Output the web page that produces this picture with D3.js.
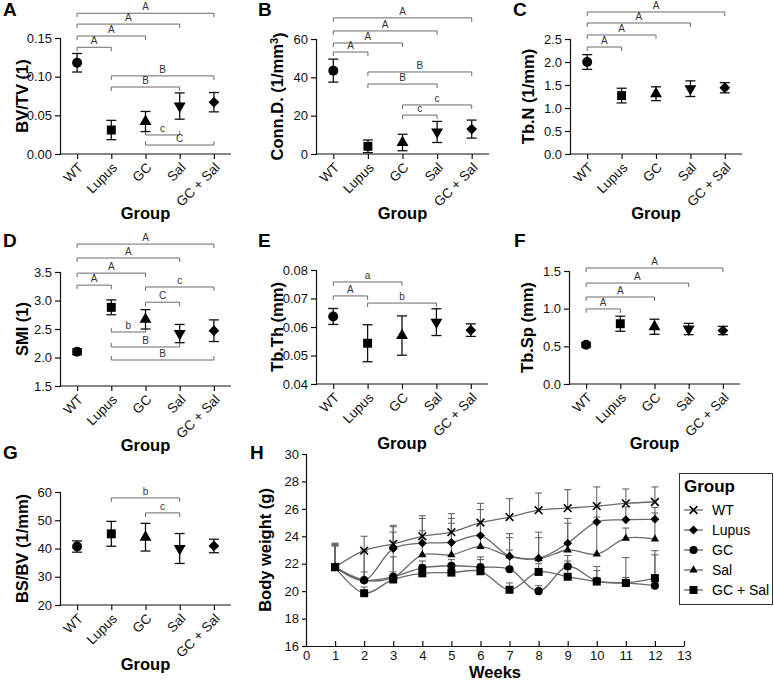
<!DOCTYPE html>
<html>
<head>
<meta charset="utf-8">
<script src="https://cdn.jsdelivr.net/npm/d3@7"></script>
<style>
  body { margin: 0; background: #fff; }
  svg { font-family: Arial, "Liberation Sans", sans-serif; }
</style>
</head>
<body>
<svg id="fig" width="774" height="683"></svg>
<script>

// ---- data: group panels (mean and SD per group) ----
const groups = ['WT', 'Lupus', 'GC', 'Sal', 'GC + Sal'];

const bvtvMean = [0.118, 0.031, 0.042, 0.062, 0.067];
const bvtvSd = [0.012, 0.0125, 0.013, 0.017, 0.0125];
const bvtvTicks = [0, 0.05, 0.10, 0.15];

const connMean = [43.5, 4, 6, 11.5, 13];
const connSd = [6, 3.3, 4.3, 5.5, 4.7];
const connTicks = [0, 20, 40, 60];

const tbnMean = [2.0, 1.27, 1.31, 1.42, 1.44];
const tbnSd = [0.16, 0.16, 0.15, 0.17, 0.11];
const tbnTicks = [0, 0.5, 1.0, 1.5, 2.0, 2.5];

const smiMean = [2.10, 2.88, 2.67, 2.42, 2.47];
const smiSd = [0.05, 0.13, 0.17, 0.16, 0.19];
const smiTicks = [1.5, 2.0, 2.5, 3.0, 3.5];

const tbthMean = [0.0637, 0.0543, 0.057, 0.0617, 0.0589];
const tbthSd = [0.0028, 0.0065, 0.0069, 0.0047, 0.0022];
const tbthTicks = [0.04, 0.05, 0.06, 0.07, 0.08];

const tbspMean = [0.52, 0.80, 0.76, 0.73, 0.71];
const tbspSd = [0.03, 0.10, 0.10, 0.075, 0.055];
const tbspTicks = [0, 0.5, 1.0, 1.5];

const bsbvMean = [40.7, 45.2, 44.0, 40.0, 40.9];
const bsbvSd = [2.0, 4.4, 4.9, 5.3, 2.4];
const bsbvTicks = [20, 30, 40, 50, 60];

// significance brackets: [from group, to group, label, level (data units), legs]
const bvtvBrackets = [
  [0, 4, 'A', 0.182, 'down'], [0, 3, 'A', 0.168, 'down'], [0, 2, 'A', 0.1526, 'down'],
  [0, 1, 'A', 0.138, 'down'], [1, 4, 'B', 0.101, 'down'], [1, 3, 'B', 0.0866, 'down'],
  [2, 3, 'c', 0.0246, 'up'], [2, 4, 'C', 0.0116, 'up']
];
const connBrackets = [
  [0, 4, 'A', 71, 'down'], [0, 3, 'A', 64.2, 'down'], [0, 2, 'A', 57.9, 'down'],
  [0, 1, 'A', 53.2, 'down'], [1, 4, 'B', 42.8, 'down'], [1, 3, 'B', 36.5, 'down'],
  [2, 4, 'c', 25.6, 'down'], [2, 3, 'c', 20.3, 'down']
];
const tbnBrackets = [
  [0, 4, 'A', 3.087, 'down'], [0, 3, 'A', 2.848, 'down'],
  [0, 2, 'A', 2.587, 'down'], [0, 1, 'A', 2.326, 'down']
];
const smiBrackets = [
  [0, 4, 'A', 3.99, 'down'], [0, 3, 'A', 3.746, 'down'], [0, 2, 'A', 3.48, 'down'],
  [0, 1, 'A', 3.27, 'down'], [2, 4, 'c', 3.237, 'down'], [2, 3, 'C', 2.97, 'down'],
  [1, 2, 'b', 2.447, 'up'], [1, 3, 'B', 2.184, 'up'], [1, 4, 'B', 1.956, 'up']
];
const tbthBrackets = [
  [0, 2, 'a', 0.0758, 'down'], [0, 1, 'A', 0.0709, 'down'], [1, 3, 'b', 0.0684, 'down']
];
const tbspBrackets = [
  [0, 4, 'A', 1.54, 'down'], [0, 3, 'A', 1.34, 'down'],
  [0, 2, 'A', 1.155, 'down'], [0, 1, 'A', 0.996, 'down']
];
const bsbvBrackets = [
  [1, 3, 'b', 57.9, 'down'], [2, 3, 'c', 52.6, 'down']
];

// ---- data: body weight over weeks (mean and upper SD) ----
const weeks = [1, 2, 3, 4, 5, 6, 7, 8, 9, 10, 11, 12];
const weekTicks = [0, 1, 2, 3, 4, 5, 6, 7, 8, 9, 10, 11, 12, 13];
const weightTicks = [16, 18, 20, 22, 24, 26, 28, 30];

const wtWeight = [21.75, 22.95, 23.45, 24.0, 24.3, 25.0, 25.4, 25.9, 26.05, 26.2, 26.4, 26.5];
const wtSd = [1.75, 1.05, 1.35, 1.5, 1.35, 1.4, 1.35, 1.25, 1.35, 1.4, 1.05, 1.1];
const lupusWeight = [21.75, 20.8, 23.1, 23.5, 23.55, 24.05, 22.55, 22.4, 23.5, 25.05, 25.2, 25.25];
const lupusSd = [1.7, 2.2, 1.6, 1.8, 1.75, 1.9, 1.65, 1.9, 1.8, 1.1, 0.95, 0.85];
const gcWeight = [21.75, 20.8, 21.05, 21.7, 21.85, 21.75, 21.6, 20.0, 21.8, 20.75, 20.6, 20.4];
const gcSd = [1.55, 0.6, 1.45, 0.5, 0.45, 0.75, 1.4, 0.4, 0.8, 1.05, 1.85, 2.55];
const salWeight = [21.75, 20.8, 21.0, 22.65, 22.65, 23.25, 22.55, 22.35, 23.0, 22.7, 23.85, 23.8];
const salSd = [1.65, 2.1, 3.3, 1.75, 2.3, 1.85, 1.35, 1.55, 1.95, 2.7, 0.75, 1.9];
const gcSalWeight = [21.75, 19.85, 20.85, 21.3, 21.35, 21.45, 20.1, 21.4, 21.05, 20.7, 20.6, 20.95];
const gcSalSd = [1.55, 0.45, 0.55, 0.6, 0.65, 0.85, 0.5, 0.6, 1.15, 0.8, 0.4, 1.7];


const svg = d3.select('#fig');
const FONT_TICK = 13;
const FONT_TITLE = 16.5;

// marker shape per group
const groupSymbols = [
  { type: d3.symbolCircle, size: 78, rot: 0 },
  { type: d3.symbolSquare, size: 80, rot: 0 },
  { type: d3.symbolTriangle, size: 62, rot: 0 },
  { type: d3.symbolTriangle, size: 62, rot: 180 },
  { type: d3.symbolSquare, size: 58, rot: 45 }
];

function panelLetter(letter, x, y) {
  svg.append('text')
    .attr('x', x)
    .attr('y', y)
    .style('font-size', '19px')
    .style('font-weight', 'bold')
    .text(letter);
}

function groupPanel(p) {

  const x = d3.scalePoint().domain(groups).range([p.left, p.right]).padding(0.5);
  const y = d3.scaleLinear().domain(p.domain).range([p.bottom, p.top]);

  const g = svg.append('g');

  // y axis
  const yAxis = g.append('g')
    .attr('transform', `translate(${p.left},0)`)
    .call(d3.axisLeft(y).tickValues(p.ticks).tickFormat(d3.format(p.fmt))
      .tickSizeOuter(0).tickSize(5).tickPadding(3));
  yAxis.selectAll('text').style('font-size', FONT_TICK + 'px').attr('fill', '#111');

  // x axis (line spans the whole plot width)
  const xAxis = g.append('g')
    .attr('transform', `translate(0,${p.bottom})`)
    .call(d3.axisBottom(x).tickSizeOuter(0).tickSize(5));
  xAxis.select('.domain').attr('d', `M${p.left},0H${p.right}`);
  xAxis.selectAll('text')
    .style('font-size', '13.5px')
    .attr('fill', '#111')
    .attr('text-anchor', 'end')
    .attr('y', 0)
    .attr('dy', '0.35em')
    .attr('transform', 'translate(3,11) rotate(-45)');
  g.selectAll('.domain, .tick line').attr('stroke', '#111').attr('stroke-width', 1.2);

  // axis titles
  g.append('text')
    .attr('transform', `translate(${p.titleX},${(p.top + p.bottom) / 2}) rotate(-90)`)
    .attr('text-anchor', 'middle')
    .attr('dy', '0.35em')
    .style('font-size', FONT_TITLE + 'px')
    .style('font-weight', 'bold')
    .text(p.yTitle);

  g.append('text')
    .attr('x', (p.left + p.right) / 2)
    .attr('y', p.bottom + 65)
    .attr('text-anchor', 'middle')
    .style('font-size', FONT_TITLE + 'px')
    .style('font-weight', 'bold')
    .text('Group');

  // brackets
  const br = g.selectAll('g.bracket').data(p.brackets).enter()
    .append('g').attr('class', 'bracket');
  br.append('path')
    .attr('fill', 'none')
    .attr('stroke', '#6a6a6a')
    .attr('stroke-width', 1)
    .attr('d', (d) => {
      const x1 = x(groups[d[0]]);
      const x2 = x(groups[d[1]]);
      const yy = y(d[3]);
      const leg = d[4] === 'down' ? 4 : -4;
      return `M${x1},${yy + leg}V${yy}H${x2}V${yy + leg}`;
    });
  br.append('text')
    .attr('x', (d) => (x(groups[d[0]]) + x(groups[d[1]])) / 2)
    .attr('y', (d) => y(d[3]) - 3)
    .attr('text-anchor', 'middle')
    .style('font-size', '10px')
    .attr('fill', '#333')
    .text((d) => d[2]);

  // error bars
  const rows = groups.map((name, i) => ({ name: name, i: i, mean: p.mean[i], sd: p.sd[i] }));
  const eb = g.selectAll('g.err').data(rows).enter().append('g').attr('class', 'err')
    .attr('stroke', '#111').attr('stroke-width', 1.3);
  eb.append('line')
    .attr('x1', (d) => x(d.name)).attr('x2', (d) => x(d.name))
    .attr('y1', (d) => y(d.mean - d.sd)).attr('y2', (d) => y(d.mean + d.sd));
  eb.append('line')
    .attr('x1', (d) => x(d.name) - 5).attr('x2', (d) => x(d.name) + 5)
    .attr('y1', (d) => y(d.mean + d.sd)).attr('y2', (d) => y(d.mean + d.sd));
  eb.append('line')
    .attr('x1', (d) => x(d.name) - 5).attr('x2', (d) => x(d.name) + 5)
    .attr('y1', (d) => y(d.mean - d.sd)).attr('y2', (d) => y(d.mean - d.sd));

  // markers
  g.selectAll('path.mark').data(rows).enter()
    .append('path')
    .attr('class', 'mark')
    .attr('fill', '#000')
    .attr('d', (d) => d3.symbol().type(groupSymbols[d.i].type).size(groupSymbols[d.i].size)())
    .attr('transform', (d) => `translate(${x(d.name)},${y(d.mean)}) rotate(${groupSymbols[d.i].rot})`);
}

panelLetter('A', 3, 16);
groupPanel({ left: 60, right: 231, top: 38, bottom: 154, domain: [0, 0.15], ticks: bvtvTicks, fmt: '.2f',
  titleX: 22, yTitle: 'BV/TV (1)', mean: bvtvMean, sd: bvtvSd, brackets: bvtvBrackets });

panelLetter('B', 258, 16);
groupPanel({ left: 316, right: 489, top: 39, bottom: 154, domain: [0, 60], ticks: connTicks, fmt: 'd',
  titleX: 277, yTitle: 'Conn.D. (1/mm3)', mean: connMean, sd: connSd, brackets: connBrackets });

panelLetter('C', 513, 16);
groupPanel({ left: 570, right: 742, top: 39, bottom: 154, domain: [0, 2.5], ticks: tbnTicks, fmt: '.1f',
  titleX: 528, yTitle: 'Tb.N (1/mm)', mean: tbnMean, sd: tbnSd, brackets: tbnBrackets });

panelLetter('D', 3, 247);
groupPanel({ left: 60, right: 231, top: 272, bottom: 386, domain: [1.5, 3.5], ticks: smiTicks, fmt: '.1f',
  titleX: 22, yTitle: 'SMI (1)', mean: smiMean, sd: smiSd, brackets: smiBrackets });

panelLetter('E', 258, 247);
groupPanel({ left: 316, right: 488, top: 270, bottom: 384, domain: [0.04, 0.08], ticks: tbthTicks, fmt: '.2f',
  titleX: 277, yTitle: 'Tb.Th (mm)', mean: tbthMean, sd: tbthSd, brackets: tbthBrackets });

panelLetter('F', 514, 247);
groupPanel({ left: 569, right: 740, top: 271, bottom: 384, domain: [0, 1.5], ticks: tbspTicks, fmt: '.1f',
  titleX: 527, yTitle: 'Tb.Sp (mm)', mean: tbspMean, sd: tbspSd, brackets: tbspBrackets });

panelLetter('G', 3, 459);
groupPanel({ left: 60, right: 231, top: 492, bottom: 605, domain: [20, 60], ticks: bsbvTicks, fmt: 'd',
  titleX: 22, yTitle: 'BS/BV (1/mm)', mean: bsbvMean, sd: bsbvSd, brackets: bsbvBrackets });

// superscript for Conn.D. title
svg.selectAll('text').filter(function () { return d3.select(this).text() === 'Conn.D. (1/mm3)'; })
  .each(function () {
    const t = d3.select(this).text(null);
    t.append('tspan').text('Conn.D. (1/mm');
    t.append('tspan').attr('dy', '-0.45em').style('font-size', '11px').text('3');
    t.append('tspan').attr('dy', '0.45em').text(')');
  });


// ---- panel H: body weight ----
panelLetter('H', 250, 459);

const hLeft = 306, hRight = 684, hTop = 454, hBottom = 646;
const xW = d3.scaleLinear().domain([0, 13]).range([hLeft, hRight]);
const yW = d3.scaleLinear().domain([16, 30]).range([hBottom, hTop]);

const h = svg.append('g');

h.append('g')
  .attr('transform', `translate(${hLeft},0)`)
  .call(d3.axisLeft(yW).tickValues(weightTicks).tickSizeOuter(0).tickSize(4).tickPadding(3));
h.append('g')
  .attr('transform', `translate(0,${hBottom})`)
  .call(d3.axisBottom(xW).tickValues(weekTicks).tickSizeOuter(0).tickSizeInner(-5).tickPadding(5));
h.selectAll('.tick text').style('font-size', FONT_TICK + 'px').attr('fill', '#111');
h.selectAll('.domain, .tick line').attr('stroke', '#111').attr('stroke-width', 1.2);

h.append('text')
  .attr('transform', `translate(265,${(hTop + hBottom) / 2}) rotate(-90)`)
  .attr('text-anchor', 'middle')
  .attr('dy', '0.35em')
  .style('font-size', FONT_TITLE + 'px')
  .style('font-weight', 'bold')
  .text('Body weight (g)');
h.append('text')
  .attr('x', (hLeft + hRight) / 2)
  .attr('y', 678)
  .attr('text-anchor', 'middle')
  .style('font-size', FONT_TITLE + 'px')
  .style('font-weight', 'bold')
  .text('Weeks');

const weightSeries = [
  { name: 'WT', values: wtWeight, sd: wtSd, sym: d3.symbolTimes, size: 40, rot: 0, stroke: true },
  { name: 'Lupus', values: lupusWeight, sd: lupusSd, sym: d3.symbolSquare, size: 40, rot: 45 },
  { name: 'GC', values: gcWeight, sd: gcSd, sym: d3.symbolCircle, size: 52 },
  { name: 'Sal', values: salWeight, sd: salSd, sym: d3.symbolTriangle, size: 30 },
  { name: 'GC + Sal', values: gcSalWeight, sd: gcSalSd, sym: d3.symbolSquare, size: 64 }
];

// upper error bars
weightSeries.forEach((s) => {
  const pts = weeks.map((w, i) => ({ w: w, v: s.values[i], top: s.values[i] + s.sd[i] }));
  const e = h.append('g').attr('stroke', '#666').attr('stroke-width', 1.1);
  e.selectAll('line.v').data(pts).enter().append('line')
    .attr('x1', (d) => xW(d.w)).attr('x2', (d) => xW(d.w))
    .attr('y1', (d) => yW(d.v)).attr('y2', (d) => yW(d.top));
  e.selectAll('line.c').data(pts).enter().append('line')
    .attr('x1', (d) => xW(d.w) - 3.5).attr('x2', (d) => xW(d.w) + 3.5)
    .attr('y1', (d) => yW(d.top)).attr('y2', (d) => yW(d.top));
});

const weightLine = d3.line()
  .x((d) => xW(d.w))
  .y((d) => yW(d.v))
  .curve(d3.curveCatmullRom.alpha(0.5));

weightSeries.forEach((s) => {
  const pts = weeks.map((w, i) => ({ w: w, v: s.values[i] }));
  h.append('path')
    .datum(pts)
    .attr('fill', 'none')
    .attr('stroke', '#6a6a6a')
    .attr('stroke-width', 1.3)
    .attr('d', weightLine);
});

function weightMarker(sel, s) {
  sel.attr('d', d3.symbol().type(s.sym).size(s.size)())
    .attr('fill', s.stroke ? 'none' : '#000')
    .attr('stroke', s.stroke ? '#000' : 'none')
    .attr('stroke-width', s.stroke ? 1.6 : 0);
}

weightSeries.forEach((s) => {
  const pts = weeks.map((w, i) => ({ w: w, v: s.values[i] }));
  h.selectAll(null).data(pts).enter()
    .append('path')
    .call(weightMarker, s)
    .attr('transform', (d) => `translate(${xW(d.w)},${yW(d.v)}) rotate(${s.rot || 0})`);
});

// legend
const legend = svg.append('g');
legend.append('rect')
  .attr('x', 679.5).attr('y', 473.5)
  .attr('width', 93).attr('height', 131)
  .attr('fill', '#fff')
  .attr('stroke', '#333')
  .attr('stroke-width', 1);
legend.append('text')
  .attr('x', 684).attr('y', 492)
  .style('font-size', '17px')
  .style('font-weight', 'bold')
  .text('Group');

const li = legend.selectAll('g.item').data(weightSeries).enter()
  .append('g')
  .attr('class', 'item')
  .attr('transform', (d, i) => `translate(684,${510 + i * 20})`);
li.append('line')
  .attr('x1', 0).attr('x2', 19)
  .attr('stroke', '#6a6a6a').attr('stroke-width', 1.3);
li.append('path')
  .each(function (d) { d3.select(this).call(weightMarker, d); })
  .attr('transform', (d) => `translate(9.5,0) rotate(${d.rot || 0})`);
li.append('text')
  .attr('x', 28)
  .attr('dy', '0.36em')
  .style('font-size', '14px')
  .text((d) => d.name);

</script>
</body>
</html>
